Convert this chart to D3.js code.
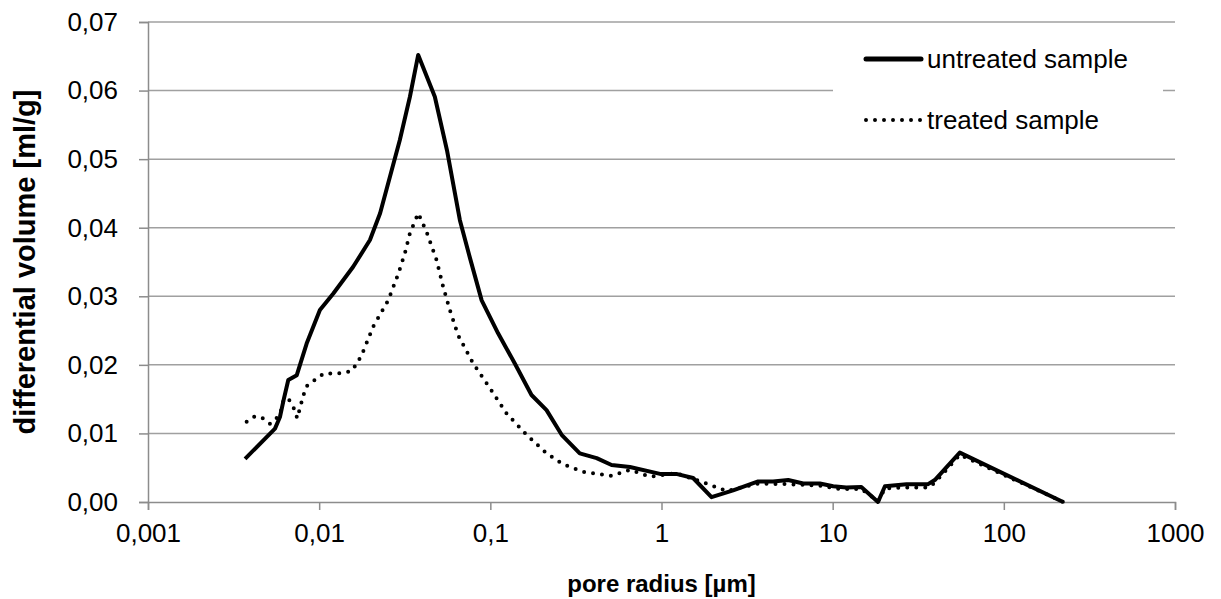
<!DOCTYPE html>
<html>
<head>
<meta charset="utf-8">
<script src="https://cdn.jsdelivr.net/npm/d3@7"></script>
<style>
  body { margin: 0; background: #fff; }
  svg { font-family: "Liberation Sans", Arial, sans-serif; }
</style>
</head>
<body>
<div id="chart"></div>
<script>
// pore radius [µm] and differential volume [ml/g]
var untreatedRadius = [0.00369, 0.00552, 0.0059, 0.0062, 0.0066, 0.0074, 0.00845, 0.0101, 0.0121, 0.0158,
    0.0198, 0.0227, 0.0296, 0.0339, 0.0379, 0.0474, 0.0558, 0.0664, 0.076, 0.089, 0.111, 0.139, 0.174,
    0.213, 0.261, 0.333, 0.418, 0.511, 0.654, 0.98, 1.22, 1.53, 1.96, 2.62, 3.67, 4.49, 5.5, 6.73, 8.42,
    10.07, 12.0, 14.7, 18.4, 20.2, 27.0, 36.1, 39.5, 55.3, 222];
var untreatedVolume = [0.0063, 0.0107, 0.0124, 0.0149, 0.0178, 0.0185, 0.0231, 0.0280, 0.0304, 0.0343,
    0.0382, 0.0421, 0.0528, 0.0591, 0.0652, 0.0591, 0.0513, 0.0411, 0.0356, 0.0294, 0.0246, 0.0202, 0.0156,
    0.0134, 0.0098, 0.0071, 0.0064, 0.0054, 0.0051, 0.0041, 0.0041, 0.0035, 0.0007, 0.0017, 0.0030, 0.0030,
    0.0032, 0.0027, 0.0027, 0.0023, 0.0021, 0.0022, 0.0000, 0.0023, 0.0026, 0.0026, 0.0032, 0.0072, 0.0];

var treatedRadius = [0.00377, 0.00422, 0.00468, 0.00516, 0.0059, 0.0062, 0.0066, 0.0071, 0.00745, 0.0078,
    0.0081, 0.00845, 0.00944, 0.0106, 0.0135, 0.0155, 0.0165, 0.0177, 0.0207, 0.0253, 0.029, 0.0317, 0.0339,
    0.0379, 0.0424, 0.0485, 0.053, 0.058, 0.0649, 0.0794, 0.0995, 0.1245, 0.163, 0.213, 0.266, 0.349, 0.511,
    0.653, 0.855, 1.22, 1.83, 2.4, 3.67, 5.5, 8.42, 11.0, 14.7, 18.4, 20.2, 27.0, 36.1, 39.5, 55.3, 222];
var treatedVolume = [0.0117, 0.0125, 0.0122, 0.0114, 0.0127, 0.0149, 0.0151, 0.0137, 0.0122, 0.0141,
    0.0156, 0.0169, 0.0178, 0.0187, 0.0188, 0.0191, 0.0201, 0.0214, 0.0256, 0.0294, 0.0333, 0.0363, 0.0392,
    0.0421, 0.0394, 0.0353, 0.0314, 0.0280, 0.0243, 0.0202, 0.0166, 0.0129, 0.0098, 0.0071, 0.0055, 0.0044,
    0.0038, 0.0047, 0.0037, 0.0042, 0.0027, 0.0016, 0.0027, 0.0026, 0.0024, 0.0019, 0.0019, 0.0001, 0.0020,
    0.0021, 0.0021, 0.0028, 0.0069, 0.0];

var xTicks = [0.001, 0.01, 0.1, 1, 10, 100, 1000];
var xTickLabels = ["0,001", "0,01", "0,1", "1", "10", "100", "1000"];
var yTicks = [0, 0.01, 0.02, 0.03, 0.04, 0.05, 0.06, 0.07];

var width = 1221, height = 599;
var margin = {top: 22, right: 46, bottom: 97, left: 148};

var svg = d3.select("#chart")
    .append("svg")
    .attr("width", width)
    .attr("height", height);

var x = d3.scaleLog()
    .domain([0.001, 1000])
    .range([margin.left, width - margin.right]);

var y = d3.scaleLinear()
    .domain([0, 0.07])
    .range([height - margin.bottom, margin.top]);

var fmtY = function(d) { return d3.format(".2f")(d).replace(".", ","); };

// gridlines
svg.append("g")
    .selectAll("line")
    .data(yTicks.slice(1))
    .enter()
    .append("line")
    .attr("x1", x(0.001))
    .attr("x2", x(1000))
    .attr("y1", function(d) { return y(d); })
    .attr("y2", function(d) { return y(d); })
    .style("stroke", "#a0a0a0")
    .style("stroke-width", 1.5);

// y axis
var yAxis = svg.append("g")
    .attr("transform", "translate(" + margin.left + ",0)")
    .call(d3.axisLeft(y).tickValues(yTicks).tickFormat(fmtY).tickSize(9).tickPadding(21));

// x axis
var xAxis = svg.append("g")
    .attr("transform", "translate(0," + (height - margin.bottom) + ")")
    .call(d3.axisBottom(x).tickValues(xTicks)
        .tickFormat(function(d, i) { return xTickLabels[i]; })
        .tickSize(8).tickPadding(14));

[yAxis, xAxis].forEach(function(ax) {
    ax.select(".domain").style("stroke", "#8c8c8c").style("stroke-width", 1.5);
    ax.selectAll(".tick line").style("stroke", "#8c8c8c").style("stroke-width", 1.5);
    ax.selectAll("text")
        .style("font-size", "26px")
        .style("fill", "#000")
        .style("font-family", "Liberation Sans, Arial, sans-serif");
});

// axis titles
svg.append("text")
    .attr("x", (x(0.001) + x(1000)) / 2)
    .attr("y", 592)
    .attr("text-anchor", "middle")
    .style("font-size", "24px")
    .style("font-weight", "bold")
    .text("pore radius [µm]");

svg.append("text")
    .attr("transform", "translate(35," + ((y(0) + y(0.07)) / 2) + ") rotate(-90)")
    .attr("text-anchor", "middle")
    .style("font-size", "29px")
    .style("font-weight", "bold")
    .text("differential volume [ml/g]");

// series
var line = d3.line()
    .x(function(d) { return x(d[0]); })
    .y(function(d) { return y(d[1]); });

var treated = treatedRadius.map(function(r, i) { return [r, treatedVolume[i]]; });
var untreated = untreatedRadius.map(function(r, i) { return [r, untreatedVolume[i]]; });

svg.append("path")
    .datum(treated)
    .attr("d", line)
    .attr("fill", "none")
    .style("stroke", "#000")
    .style("stroke-width", 4)
    .style("stroke-linecap", "round")
    .style("stroke-dasharray", "0 9");

svg.append("path")
    .datum(untreated)
    .attr("d", line)
    .attr("fill", "none")
    .style("stroke", "#000")
    .style("stroke-width", 4)
    .style("stroke-linejoin", "round");

// legend
var legend = svg.append("g");
legend.append("rect")
    .attr("x", 833)
    .attr("y", 36)
    .attr("width", 330)
    .attr("height", 110)
    .attr("fill", "#fff");

var legendItems = [
    {label: "untreated sample", dash: null, y: 59},
    {label: "treated sample", dash: "0 9", y: 120}
];

legend.selectAll(".item")
    .data(legendItems)
    .enter()
    .append("line")
    .attr("x1", 866)
    .attr("x2", 921)
    .attr("y1", function(d) { return d.y; })
    .attr("y2", function(d) { return d.y; })
    .style("stroke", "#000")
    .style("stroke-width", function(d) { return d.dash ? 4 : 5; })
    .style("stroke-linecap", "round")
    .style("stroke-dasharray", function(d) { return d.dash; });

legend.selectAll(".label")
    .data(legendItems)
    .enter()
    .append("text")
    .attr("x", 927)
    .attr("y", function(d) { return d.y + 9; })
    .style("font-size", "26px")
    .text(function(d) { return d.label; });
</script>
</body>
</html>
